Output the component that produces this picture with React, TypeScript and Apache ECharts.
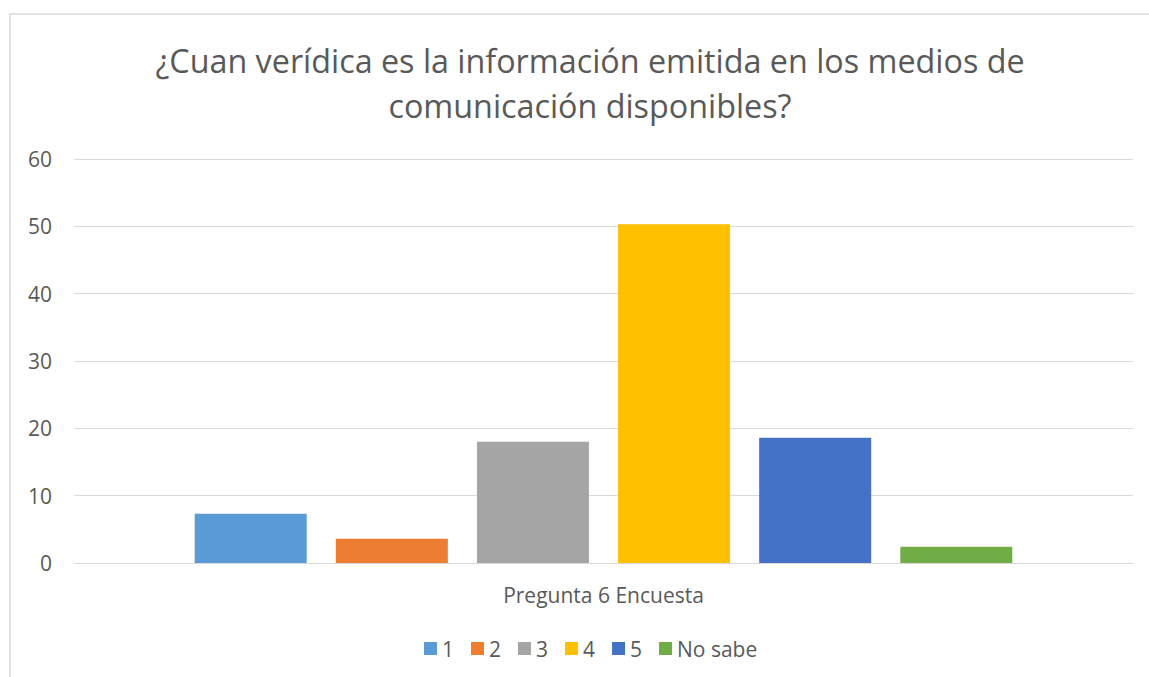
import React, { useEffect, useRef } from "react";
import * as echarts from "echarts";

const categories = ["Pregunta 6 Encuesta"];
const seriesNames = ["1", "2", "3", "4", "5", "No sabe"];
const seriesValues = [7.3, 3.6, 18.0, 50.3, 18.6, 2.4];
const seriesColors = ["#5b9bd5", "#ed7d31", "#a5a5a5", "#ffc000", "#4472c4", "#70ad47"];
const titleText = "¿Cuan verídica es la información emitida en los medios de\ncomunicación disponibles?";

const FONT = "'Open Sans', sans-serif";

export default function App() {
  const ref = useRef<HTMLDivElement>(null);
  useEffect(() => {
    if (!ref.current) return;
    const chart = echarts.init(ref.current, undefined, { renderer: "svg" });
    chart.setOption({
      animation: false,
      backgroundColor: "#ffffff",
      title: {
        text: titleText,
        left: 585,
        textAlign: "center",
        top: 32,
        textStyle: {
          fontFamily: FONT,
          fontSize: 32.3,
          fontWeight: "normal",
          color: "#595959",
          lineHeight: 45,
        },
      },
      graphic: [
        {
          type: "rect",
          shape: { x: 10, y: 14, width: 1160, height: 700 },
          style: { fill: "none", stroke: "#d9d9d9", lineWidth: 1.5 },
          silent: true,
        },
      ],
      legend: {
        left: 419,
        top: 633,
        itemWidth: 13,
        itemHeight: 13,
        itemGap: 17,
        icon: "rect",
        textStyle: { fontFamily: FONT, fontSize: 21, color: "#595959" },
        data: seriesNames,
      },
      grid: { left: 74, right: 16, top: 159, bottom: 677 - 563, containLabel: false },
      xAxis: {
        type: "category",
        data: categories,
        axisLine: { show: true, lineStyle: { color: "#d9d9d9", width: 1 } },
        axisTick: { show: false },
        axisLabel: { fontFamily: FONT, fontSize: 21, color: "#595959", margin: 21 },
      },
      yAxis: {
        type: "value",
        min: 0,
        max: 60,
        interval: 10,
        axisLine: { show: false },
        axisTick: { show: false },
        axisLabel: { fontFamily: FONT, fontSize: 21, color: "#595959", margin: 22 },
        splitLine: { lineStyle: { color: "#d9d9d9", width: 1 } },
      },
      series: seriesNames.map((name, i) => ({
        name,
        type: "bar",
        data: [seriesValues[i]],
        barWidth: 112,
        barGap: "26%",
        itemStyle: { color: seriesColors[i] },
      })),
    });
    return () => chart.dispose();
  }, []);
  return (
    <div
      ref={ref}
      style={{ position: "absolute", left: 0, top: 0, width: 1149, height: 677 }}
    />
  );
}
